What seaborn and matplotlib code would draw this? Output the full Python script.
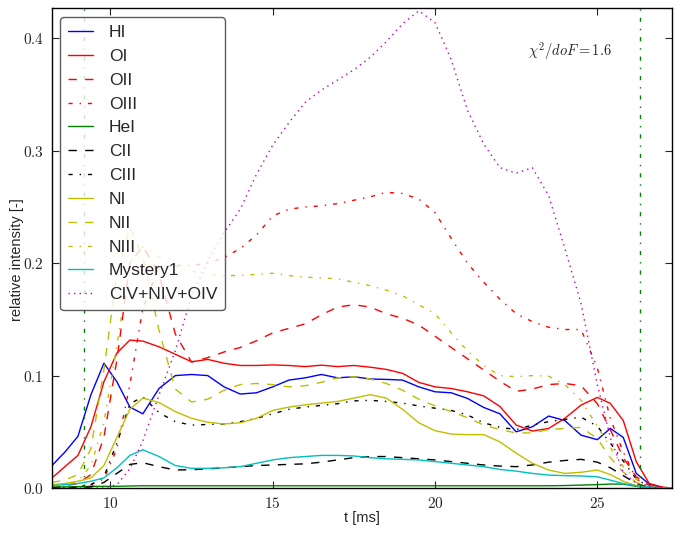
import numpy as np
import pandas as pd
import matplotlib
matplotlib.use("Agg")
import matplotlib.pyplot as plt
from matplotlib.ticker import FixedLocator, FuncFormatter
import seaborn as sns

# time axis [ms]
t = [8.2, 8.6, 9.0, 9.4, 9.8, 10.2, 10.6,
     11.0, 11.5, 12.0, 12.5, 13.0, 13.5, 14.0, 14.5, 15.0, 15.5, 16.0, 16.5,
     17.0, 17.5, 18.0, 18.5, 19.0, 19.5, 20.0, 20.5, 21.0, 21.5, 22.0, 22.5,
     23.0, 23.5, 24.0, 24.5, 25.0,
     25.4, 25.8, 26.2, 26.6, 27.0, 27.3]

HI = [0.020, 0.032, 0.046, 0.083, 0.111, 0.0945, 0.072,
      0.066, 0.0886, 0.100, 0.101, 0.100, 0.090, 0.0836, 0.0847, 0.090, 0.096, 0.098, 0.101,
      0.098, 0.099, 0.097, 0.0966, 0.096, 0.090, 0.0856, 0.0847, 0.0797, 0.0717, 0.066, 0.050,
      0.0545, 0.064, 0.060, 0.047, 0.043,
      0.053, 0.045, 0.013, 0.0035, 0.0005, 0.0]
OI = [0.009, 0.019, 0.029, 0.0545, 0.0945, 0.120, 0.1316,
      0.1307, 0.1256, 0.119, 0.1123, 0.1144, 0.111, 0.109, 0.109, 0.1095, 0.109, 0.108, 0.1093,
      0.108, 0.109, 0.1075, 0.1055, 0.102, 0.094, 0.090, 0.0885, 0.0856, 0.082, 0.0725, 0.056,
      0.0507, 0.053, 0.062, 0.0738, 0.0806,
      0.0753, 0.060, 0.0234, 0.004, 0.0008, 0.0]
OII = [0.0, 0.002, 0.004, 0.012, 0.045, 0.114, 0.20,
       0.215, 0.19, 0.137, 0.112, 0.116, 0.121, 0.125, 0.131, 0.138, 0.142, 0.146, 0.154,
       0.161, 0.163, 0.161, 0.155, 0.151, 0.145, 0.135, 0.125, 0.115, 0.105, 0.095, 0.086,
       0.088, 0.092, 0.093, 0.091, 0.075,
       0.052, 0.027, 0.010, 0.002, 0.0, 0.0]
OIII = [0.0, 0.0, 0.001, 0.003, 0.008, 0.035, 0.092,
        0.16, 0.197, 0.198, 0.198, 0.200, 0.205, 0.213, 0.225, 0.242, 0.248, 0.250, 0.251,
        0.253, 0.256, 0.259, 0.263, 0.262, 0.257, 0.245, 0.222, 0.200, 0.183, 0.168, 0.155,
        0.148, 0.143, 0.141, 0.141, 0.107,
        0.062, 0.032, 0.008, 0.001, 0.0, 0.0]
HeI = [0.001, 0.001, 0.0012, 0.0015, 0.0015, 0.0015, 0.0018,
       0.002, 0.002, 0.002, 0.002, 0.002, 0.002, 0.002, 0.002, 0.002, 0.002, 0.002, 0.002,
       0.002, 0.002, 0.002, 0.002, 0.002, 0.002, 0.002, 0.002, 0.002, 0.002, 0.002, 0.002,
       0.002, 0.002, 0.0022, 0.0026, 0.003,
       0.0035, 0.0035, 0.0015, 0.0004, 0.0, 0.0]
CII = [0.0, 0.0, 0.0, 0.001, 0.005, 0.013, 0.021,
       0.0225, 0.019, 0.016, 0.0163, 0.017, 0.018, 0.019, 0.020, 0.0205, 0.021, 0.0215, 0.023,
       0.025, 0.027, 0.028, 0.028, 0.027, 0.026, 0.025, 0.0235, 0.022, 0.0205, 0.0195, 0.019,
       0.0205, 0.023, 0.0245, 0.0255, 0.023,
       0.018, 0.011, 0.004, 0.0005, 0.0, 0.0]
CIII = [0.0, 0.0, 0.001, 0.003, 0.010, 0.040, 0.075,
        0.081, 0.067, 0.059, 0.056, 0.0565, 0.057, 0.059, 0.062, 0.066, 0.070, 0.072, 0.0735,
        0.075, 0.0775, 0.078, 0.077, 0.0755, 0.073, 0.071, 0.069, 0.065, 0.058, 0.054, 0.052,
        0.056, 0.059, 0.061, 0.063, 0.055,
        0.040, 0.024, 0.008, 0.001, 0.0, 0.0]
NI = [0.003, 0.004, 0.006, 0.009, 0.020, 0.045, 0.070,
      0.080, 0.076, 0.068, 0.062, 0.0585, 0.057, 0.058, 0.062, 0.069, 0.072, 0.074, 0.0755,
      0.077, 0.080, 0.083, 0.080, 0.070, 0.058, 0.051, 0.048, 0.0475, 0.0475, 0.041, 0.031,
      0.022, 0.016, 0.013, 0.014, 0.016,
      0.012, 0.006, 0.002, 0.0005, 0.0, 0.0]
NII = [0.005, 0.007, 0.012, 0.035, 0.105, 0.19, 0.232,
       0.205, 0.14, 0.088, 0.0765, 0.079, 0.087, 0.092, 0.093, 0.092, 0.090, 0.091, 0.094,
       0.098, 0.099, 0.097, 0.093, 0.087, 0.079, 0.073, 0.068, 0.0625, 0.056, 0.052, 0.049,
       0.049, 0.052, 0.053, 0.054, 0.044,
       0.027, 0.014, 0.005, 0.001, 0.0, 0.0]
NIII = [0.002, 0.003, 0.006, 0.020, 0.058, 0.127, 0.200,
        0.215, 0.205, 0.197, 0.193, 0.190, 0.189, 0.189, 0.190, 0.191, 0.189, 0.1875, 0.187,
        0.186, 0.183, 0.180, 0.176, 0.171, 0.163, 0.155, 0.138, 0.122, 0.109, 0.100, 0.099,
        0.100, 0.0995, 0.092, 0.078, 0.055,
        0.036, 0.019, 0.008, 0.001, 0.0, 0.0]
Mystery1 = [0.002, 0.003, 0.004, 0.006, 0.009, 0.018, 0.029,
            0.034, 0.028, 0.020, 0.0175, 0.0175, 0.018, 0.019, 0.022, 0.025, 0.027, 0.028, 0.029,
            0.029, 0.0285, 0.027, 0.026, 0.0255, 0.025, 0.0235, 0.022, 0.0205, 0.019, 0.0165, 0.015,
            0.013, 0.0115, 0.011, 0.0107, 0.010,
            0.007, 0.004, 0.002, 0.001, 0.0, 0.0]
CNO_IV = [0.0, 0.0, 0.0, 0.0, 0.0, 0.003, 0.017,
          0.042, 0.083, 0.122, 0.171, 0.202, 0.227, 0.248, 0.279, 0.305, 0.325, 0.343, 0.354,
          0.363, 0.372, 0.383, 0.397, 0.413, 0.4245, 0.414, 0.381, 0.336, 0.306, 0.285, 0.280,
          0.285, 0.260, 0.213, 0.164, 0.092,
          0.045, 0.014, 0.004, 0.001, 0.0, 0.0]

labels = ["HI", "OI", "OII", "OIII", "HeI", "CII", "CIII", "NI", "NII", "NIII",
          "Mystery1", "CIV+NIV+OIV"]
colors = ["b", "r", "r", "r", "g", "k", "k", "y", "y", "y", "c", "m"]
styles = ["-", "-", "--", "-.", "-", "--", "-.", "-", "--", "-.", "-", ":"]

t_start, t_end = 9.19, 26.33
chi2 = 1.6

df = pd.DataFrame({"t": t, "HI": HI, "OI": OI, "OII": OII, "OIII": OIII, "HeI": HeI,
                   "CII": CII, "CIII": CIII, "NI": NI, "NII": NII, "NIII": NIII,
                   "Mystery1": Mystery1, "CIV+NIV+OIV": CNO_IV})

sns.set_style("ticks")
plt.rcParams["font.family"] = ["Liberation Sans", "DejaVu Sans"]
plt.rcParams["mathtext.fontset"] = "cm"
plt.rcParams["lines.scale_dashes"] = False
plt.rcParams["lines.dashed_pattern"] = [6, 6]
plt.rcParams["lines.dashdot_pattern"] = [3, 5, 1, 5]
plt.rcParams["lines.dotted_pattern"] = [1, 3]

fig, ax = plt.subplots(figsize=(6.82, 5.33), dpi=100)
fig.subplots_adjust(left=0.0762, right=0.9853, top=0.985, bottom=0.0844)

for name, c, ls in zip(labels, colors, styles):
    sns.lineplot(data=df, x="t", y=name, color=c, linestyle=ls, linewidth=1.0,
                 label=name, ax=ax, legend=False)

ax.axvline(t_start, color="g", linestyle="-.", linewidth=1.0)
ax.axvline(t_end, color="g", linestyle="-.", linewidth=1.0)

ax.text(22.85, 0.389, r"$\chi^2/doF = %.1f$" % chi2, fontsize=10.5, va="center")

ax.set_xlim(8.2, 27.3)
ax.set_ylim(0, 0.427)
ax.xaxis.set_major_locator(FixedLocator([10, 15, 20, 25]))
ax.yaxis.set_major_locator(FixedLocator([0.0, 0.1, 0.2, 0.3, 0.4]))
ax.xaxis.set_major_formatter(FuncFormatter(lambda v, p: r"$%d$" % v))
ax.yaxis.set_major_formatter(FuncFormatter(lambda v, p: r"$%.1f$" % v))
ax.tick_params(direction="in", top=True, right=True, length=5, width=0.8,
               labelsize=11, pad=6)
for s in ax.spines.values():
    s.set_color("black")
    s.set_linewidth(1.0)

ax.set_xlabel("t [ms]", fontsize=10.5, labelpad=0)
ax.set_ylabel("relative intensity [-]", fontsize=10.5)
ax.yaxis.set_label_coords(-0.045, 0.475)

leg = ax.legend(loc="upper left", bbox_to_anchor=(0.013, 0.981), borderaxespad=0,
                fontsize=12.5, handlelength=1.45, handletextpad=0.9, labelspacing=0.5,
                fancybox=True, framealpha=0.8, edgecolor="0.2", borderpad=0.45)
leg.get_frame().set_linewidth(1.0)

fig.savefig("out.png", dpi=100)
